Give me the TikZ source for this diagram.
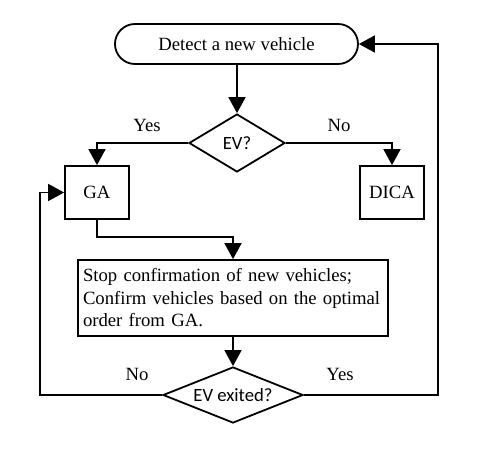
\documentclass[tikz,border=0pt]{standalone}
\usepackage{fontspec}
\setmainfont{Liberation Serif}
\newfontfamily\calfont{Carlito}
\usetikzlibrary{shapes.geometric,arrows.meta}
\begin{document}
\begin{tikzpicture}[x=1pt,y=-1pt,
  every node/.style={font=\fontsize{18.7}{22.5}\selectfont},
  arr/.style={line width=1.8pt,-{Triangle[length=16pt,width=17pt]}},
  boxstyle/.style={draw,line width=1.8pt,rectangle,inner sep=0pt},
  decide/.style={draw,line width=1.8pt,diamond,inner sep=0pt,font=\calfont\fontsize{18.7}{22.5}\selectfont},
  lbl/.style={inner sep=0pt}]
\useasboundingbox (0,0) rectangle (485,458);
\node[draw,line width=1.8pt,rounded corners=20pt,minimum width=243pt,minimum height=40pt,inner sep=0pt] (start) at (236.5,44) {Detect a new vehicle};
\node[decide,aspect=1.66,minimum width=96pt,minimum height=58pt] (ev) at (237,143) {EV?};
\node[boxstyle,minimum width=64pt,minimum height=53pt] (ga) at (97,192.5) {GA};
\node[boxstyle,minimum width=64pt,minimum height=53pt] (dica) at (392,192.5) {DICA};
\node[boxstyle,minimum width=310pt,minimum height=76pt,inner xsep=5pt,text width=300pt,align=left] (stop) at (233,298) {\hyphenpenalty=10000 Stop confirmation of new vehicles;\\Confirm vehicles based on the optimal\\order from GA.};
\node[decide,aspect=2.5,minimum width=140pt,minimum height=56pt] (exit) at (233,395) {EV exited?};
\coordinate (ll) at (40,395);
\coordinate (rr) at (438,395);
\coordinate (gb) at (97,237);
\node[lbl] (yes1) at (147,125) {Yes};
\node[lbl] (no1) at (339,125) {No};
\node[lbl] (no2) at (137,374) {No};
\node[lbl] (yes2) at (340,374) {Yes};
\draw[arr] (start.south -| ev.north) -- (ev.north);
\draw[arr] (ev.west) -| (ga.north);
\draw[arr] (ev.east) -| (dica.north);
\draw[arr] (ga.south) -- (gb) -| (stop.north);
\draw[arr] (stop.south) -- (exit.north);
\draw[arr] (exit.west) -- (ll) |- (ga.west);
\draw[arr] (exit.east) -- (rr) |- (start.east);
\end{tikzpicture}
\end{document}
